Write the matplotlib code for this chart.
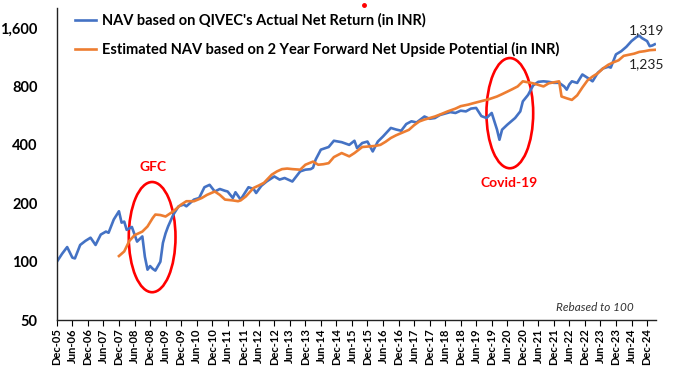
import numpy as np
import pandas as pd
import matplotlib
matplotlib.use('Agg')
import matplotlib.pyplot as plt
import matplotlib.dates as mdates
from matplotlib.patches import Ellipse
from matplotlib.ticker import FixedLocator, FuncFormatter, NullLocator

plt.rcParams['font.family'] = ['Lato', 'DejaVu Sans']

# months counted from Dec-05, values rebased to 100
blue_month = [0, 2, 4, 6, 7, 9, 11, 13, 15, 17, 19, 20, 22, 24, 25, 26, 27, 29, 31, 33,
              34, 35, 36, 37, 38, 40, 41, 42, 43, 45, 47, 49, 50, 53, 55, 57, 59, 61, 63, 65,
              66, 68, 69, 71, 74, 76, 77, 79, 81, 84, 86, 88, 91, 94, 96, 98, 99, 100, 102, 105,
              107, 110, 113, 115, 116, 118, 120, 122, 124, 126, 129, 131, 133, 135, 137, 139, 142, 144, 146, 148,
              150, 152, 154, 156, 158, 160, 162, 164, 166, 168, 169, 170, 171, 172, 174, 177, 179, 180, 182, 184,
              186, 188, 190, 192, 194, 196, 197, 198, 199, 201, 203, 205, 207, 209, 211, 213, 214, 216, 218, 220,
              222, 224, 225, 226, 228, 229, 230, 231]
blue_value = [100, 110, 119, 105, 104, 122, 128, 133, 122, 138, 143, 141, 165, 182, 159, 161, 146, 151, 127, 135,
              106, 91, 95, 92, 90, 100, 125, 140, 152, 175, 193, 197, 193, 209, 213, 242, 249, 230, 237, 232,
              230, 213, 228, 209, 242, 237, 226, 246, 259, 275, 265, 270, 259, 292, 298, 300, 305, 336, 378, 390,
              420, 413, 400, 420, 385, 409, 416, 370, 416, 442, 489, 480, 473, 512, 529, 522, 560, 545, 550, 570,
              580, 590, 584, 600, 595, 615, 620, 563, 550, 584, 530, 480, 425, 479, 508, 550, 595, 670, 724, 810,
              845, 850, 845, 835, 835, 800, 770, 820, 850, 834, 922, 886, 850, 940, 990, 1010, 1000, 1170, 1215, 1280,
              1370, 1440, 1460, 1420, 1370, 1290, 1300, 1319]

orange_month = [24, 26, 28, 30, 33, 35, 37, 38, 40, 42, 45, 48, 50, 53, 56, 58, 60, 61, 63, 65,
                68, 70, 71, 73, 76, 78, 80, 83, 85, 87, 89, 91, 94, 96, 99, 101, 103, 105, 107, 110,
                113, 115, 118, 121, 123, 125, 127, 129, 131, 133, 136, 138, 140, 142, 146, 149, 151, 154, 156, 159,
                161, 164, 167, 170, 172, 174, 176, 178, 180, 182, 184, 186, 188, 190, 192, 194, 195, 197, 199, 201,
                203, 205, 207, 209, 211, 213, 215, 217, 219, 221, 223, 225, 227, 229, 231]
orange_value = [107, 113, 128, 137, 143, 152, 168, 175, 174, 171, 182, 197, 205, 205, 213, 221, 227, 230, 221, 209,
                207, 205, 207, 217, 240, 247, 255, 281, 292, 300, 302, 300, 298, 316, 328, 316, 318, 322, 346, 363,
                349, 363, 390, 393, 395, 400, 415, 434, 448, 460, 478, 505, 528, 540, 560, 580, 595, 615, 633, 645,
                656, 672, 688, 710, 730, 752, 775, 800, 850, 840, 830, 815, 800, 830, 840, 850, 710, 695, 682, 720,
                790, 860, 900, 935, 990, 1034, 1065, 1091, 1150, 1165, 1180, 1205, 1215, 1230, 1235]

y_ticks = [50, 100, 200, 400, 800, 1600]
blue_label = "NAV based on QIVEC's Actual Net Return (in INR)"
orange_label = "Estimated NAV based on 2 Year Forward Net Upside Potential (in INR)"

start = pd.Period('2005-12', 'M')


def to_dates(months):
    return [(start + m).to_timestamp() for m in months]


blue_dates = to_dates(blue_month)
orange_dates = to_dates(orange_month)
tick_dates = to_dates(range(0, 229, 6))

fig = plt.figure(figsize=(6.77, 3.78), dpi=100)
ax = fig.add_axes([0.084, 0.153, 0.885, 0.826])

ax.plot(blue_dates, blue_value, color='#4472C4', lw=1.9, label=blue_label)
ax.plot(orange_dates, orange_value, color='#ED7D31', lw=1.9, label=orange_label)

ax.set_yscale('log', base=2)
ax.set_ylim(50, 2030)
ax.yaxis.set_major_locator(FixedLocator(y_ticks))
ax.yaxis.set_minor_locator(NullLocator())
ax.yaxis.set_major_formatter(FuncFormatter(lambda v, p: f'{v:,.0f}'))
ax.tick_params(axis='y', length=0, pad=14, labelsize=10.5)

ax.set_xlim(tick_dates[0], (start + 231).to_timestamp() + pd.Timedelta(days=15))
ax.set_xticks(tick_dates)
ax.xaxis.set_major_formatter(mdates.DateFormatter('%b-%y'))
ax.tick_params(axis='x', rotation=90, labelsize=8, length=4, pad=2)
for lab in ax.get_xticklabels() + ax.get_yticklabels():
    lab.set_fontweight('bold')

for s in ['top', 'right']:
    ax.spines[s].set_visible(False)
for s in ['left', 'bottom']:
    ax.spines[s].set_color('#222222')
    ax.spines[s].set_linewidth(1.0)

leg = ax.legend(loc='upper left', bbox_to_anchor=(0.008, 1.025), frameon=False,
                prop={'weight': 'bold', 'size': 10.5}, labelspacing=0.95,
                handlelength=1.45, handletextpad=0.45)

# highlight ellipses
for cx, cy in [(0.159, 0.266), (0.756, 0.663)]:
    ax.add_patch(Ellipse((cx, cy), 0.078, 0.353, transform=ax.transAxes,
                         fill=False, edgecolor='red', lw=1.9))
ax.text(0.160, 0.49, 'GFC', transform=ax.transAxes, color='red', fontsize=10,
        fontweight='bold', ha='center', va='center')
ax.text(0.755, 0.439, 'Covid-19', transform=ax.transAxes, color='red', fontsize=10,
        fontweight='bold', ha='center', va='center')
ax.text(0.898, 0.042, 'Rebased to 100', transform=ax.transAxes, color='#333333',
        fontsize=8.5, style='italic', ha='center', va='center')

ax.annotate(f'{blue_value[-1]:,}', (blue_dates[-1], blue_value[-1]), xytext=(-6, 10),
            textcoords='offset points', ha='center', va='center', fontsize=10, color='#222222')
ax.annotate(f'{orange_value[-1]:,}', (orange_dates[-1], orange_value[-1]), xytext=(-6, -10),
            textcoords='offset points', ha='center', va='center', fontsize=10, color='#222222')

# small red mark at the top edge of the source image
fig.add_artist(plt.Line2D([364 / 677], [1 - 5 / 378], marker='o', markersize=2.5,
                          color='red', transform=fig.transFigure))

fig.savefig('out.png', dpi=100)
